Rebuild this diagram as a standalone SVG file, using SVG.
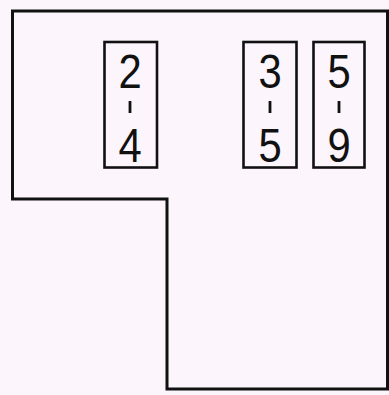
<svg xmlns="http://www.w3.org/2000/svg" width="389" height="395" viewBox="0 0 389 395">
<style>
.outline{fill:none;stroke:#111;stroke-width:3;stroke-linejoin:miter}
.box{fill:none;stroke:#111;stroke-width:2.6}
.dig{font-family:"Liberation Sans",Arial,sans-serif;font-size:48px;fill:#111;text-anchor:middle}
.tick{stroke:#111;stroke-width:2.8}
</style>
<rect width="389" height="395" fill="#fcf6fc"/>
<g id="outline">
<path class="outline" d="M12.5,11 H387.5 V389 H167 V199 H12.5 Z"/>
</g>
<g id="label-2-4">
<rect class="box" x="104.5" y="42" width="52.5" height="125.5"/>
<text class="dig" transform="translate(130,88) scale(0.87,1)">2</text>
<line class="tick" x1="130" y1="101" x2="130" y2="113"/>
<text class="dig" transform="translate(130,162) scale(0.87,1)">4</text>
</g>
<g id="label-3-5">
<rect class="box" x="243.5" y="42" width="53" height="125.5"/>
<text class="dig" transform="translate(270,88) scale(0.87,1)">3</text>
<line class="tick" x1="270" y1="101" x2="270" y2="113"/>
<text class="dig" transform="translate(270,162) scale(0.87,1)">5</text>
</g>
<g id="label-5-9">
<rect class="box" x="313.5" y="42" width="51" height="125.5"/>
<text class="dig" transform="translate(339,88) scale(0.87,1)">5</text>
<line class="tick" x1="339" y1="101" x2="339" y2="113"/>
<text class="dig" transform="translate(339,162) scale(0.87,1)">9</text>
</g>
<g id="connectors"></g>
</svg>
